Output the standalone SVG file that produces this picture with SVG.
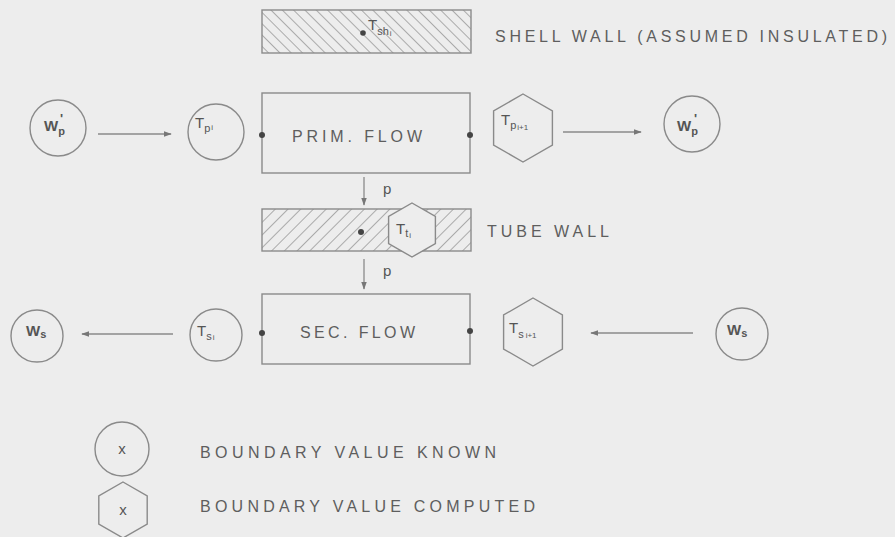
<svg xmlns="http://www.w3.org/2000/svg" width="895" height="537" viewBox="0 0 895 537">
<defs>
<style>
.nd{fill:#ededed;stroke:#8a8a8a;stroke-width:1.4}
.tx{font-family:"Liberation Sans",Arial,sans-serif;fill:#5e5e5e;font-size:16px}
.lb{font-family:"Liberation Sans",Arial,sans-serif;fill:#555;font-size:15px}
.sb{font-size:11px}
.ss{font-size:8px}
.pr{font-size:13px}
.dot{fill:#444}
.ar{stroke:#8a8a8a;stroke-width:1.3;fill:none;marker-end:url(#ah)}
</style>
<marker id="ah" viewBox="0 0 10 10" refX="9" refY="5" markerWidth="8" markerHeight="8" orient="auto" markerUnits="userSpaceOnUse">
<path d="M0,1.5 L10,5 L0,8.5 z" fill="#777"/>
</marker>
<pattern id="hatchBack" width="8" height="8" patternUnits="userSpaceOnUse" patternTransform="rotate(-45)">
<line x1="0" y1="0" x2="0" y2="8" stroke="#8e8e8e" stroke-width="1.4"/>
</pattern>
<pattern id="hatchFwd" width="9" height="9" patternUnits="userSpaceOnUse" patternTransform="rotate(45)">
<line x1="0" y1="0" x2="0" y2="9" stroke="#8e8e8e" stroke-width="1.4"/>
</pattern>
</defs>
<rect width="895" height="537" fill="#ededed"/>

<g id="shell-wall">
<rect x="262" y="10" width="209" height="43" fill="url(#hatchBack)" stroke="#8a8a8a" stroke-width="1.4"/>
<circle class="dot" cx="363" cy="33" r="2.8"/>
<text class="lb" x="368" y="30">T<tspan class="sb" dy="5">sh</tspan><tspan class="ss" dx="1" dy="1">i</tspan></text>
</g>
<text id="shell-label" class="tx" x="495" y="42" textLength="392" lengthAdjust="spacing">SHELL WALL (ASSUMED INSULATED)</text>

<g id="wp-in">
<circle class="nd" cx="58" cy="128" r="28"/>
<text class="lb" x="44" y="131" font-weight="bold">W<tspan class="sb" dy="4">p</tspan><tspan class="pr" dx="-5" dy="-12">'</tspan></text>
</g>
<g id="tp-i">
<circle class="nd" cx="216" cy="132" r="28"/>
<text class="lb" x="195" y="128">T<tspan class="sb" dy="4">p</tspan><tspan class="ss" dx="1" dy="-2">i</tspan></text>
</g>
<g id="prim-flow">
<rect class="nd" x="262" y="93" width="208" height="80"/>
<text class="tx" x="292" y="142" textLength="130" lengthAdjust="spacing">PRIM. FLOW</text>
<circle class="dot" cx="262" cy="135" r="3"/>
<circle class="dot" cx="470" cy="135" r="3"/>
</g>
<g id="tp-i1">
<polygon class="nd" points="523,94 552.4,111 552.4,145 523,162 493.6,145 493.6,111"/>
<text class="lb" x="501" y="125">T<tspan class="sb" dy="4">p</tspan><tspan class="ss" dx="1" dy="1">i+1</tspan></text>
</g>
<g id="wp-out">
<circle class="nd" cx="692" cy="124" r="28"/>
<text class="lb" x="677" y="131" font-weight="bold">W<tspan class="sb" dy="4">p</tspan><tspan class="pr" dx="-4" dy="-12">'</tspan></text>
</g>

<g id="tube-wall">
<rect x="262" y="209" width="209" height="42" fill="url(#hatchFwd)" stroke="#8a8a8a" stroke-width="1.4"/>
<circle class="dot" cx="361" cy="232" r="3"/>
</g>
<g id="tt-i">
<polygon class="nd" points="412,203 435.4,216.5 435.4,243.5 412,257 388.6,243.5 388.6,216.5"/>
<text class="lb" x="396" y="234">T<tspan class="sb" dy="3">t</tspan><tspan class="ss" dx="1" dy="1">i</tspan></text>
</g>
<text id="tube-label" class="tx" x="487" y="237" textLength="122" lengthAdjust="spacing">TUBE WALL</text>

<g id="ws-out">
<circle class="nd" cx="37" cy="336" r="26"/>
<text class="lb" x="26" y="336" font-weight="bold">W<tspan class="sb" dy="2">s</tspan></text>
</g>
<g id="ts-i">
<circle class="nd" cx="216" cy="335" r="26"/>
<text class="lb" x="197" y="336">T<tspan class="sb" dy="4">s</tspan><tspan class="ss" dx="1" dy="0">i</tspan></text>
</g>
<g id="sec-flow">
<rect class="nd" x="262" y="294" width="208" height="70"/>
<text class="tx" x="300" y="338" textLength="115" lengthAdjust="spacing">SEC. FLOW</text>
<circle class="dot" cx="262" cy="333" r="3"/>
<circle class="dot" cx="470" cy="331" r="3"/>
</g>
<g id="ts-i1">
<polygon class="nd" points="533,298 562.4,315 562.4,349 533,366 503.6,349 503.6,315"/>
<text class="lb" x="509" y="333">T<tspan class="sb" dy="5">s</tspan><tspan class="ss" dx="2" dy="0">i+1</tspan></text>
</g>
<g id="ws-in">
<circle class="nd" cx="742" cy="334" r="26"/>
<text class="lb" x="727" y="335" font-weight="bold">W<tspan class="sb" dy="2">s</tspan></text>
</g>

<g id="connectors">
<line class="ar" x1="98" y1="134" x2="171" y2="134"/>
<line class="ar" x1="563" y1="132" x2="641" y2="132"/>
<line class="ar" x1="364" y1="177" x2="364" y2="205"/>
<line class="ar" x1="364" y1="259" x2="364" y2="289"/>
<line class="ar" x1="173" y1="334" x2="82" y2="334"/>
<line class="ar" x1="693" y1="333" x2="591" y2="333"/>
<text class="lb" x="383" y="194">p</text>
<text class="lb" x="383" y="276">p</text>
</g>

<g id="legend-known">
<circle class="nd" cx="122" cy="449" r="27"/>
<text class="lb" x="122" y="454" text-anchor="middle" font-size="13">x</text>
<text class="tx" x="200" y="458" textLength="296" lengthAdjust="spacing">BOUNDARY VALUE KNOWN</text>
</g>
<g id="legend-computed">
<polygon class="nd" points="123,482 147.2,496 147.2,524 123,538 98.8,524 98.8,496"/>
<text class="lb" x="123" y="515" text-anchor="middle" font-size="13">x</text>
<text class="tx" x="200" y="512" textLength="335" lengthAdjust="spacing">BOUNDARY VALUE COMPUTED</text>
</g>
</svg>
